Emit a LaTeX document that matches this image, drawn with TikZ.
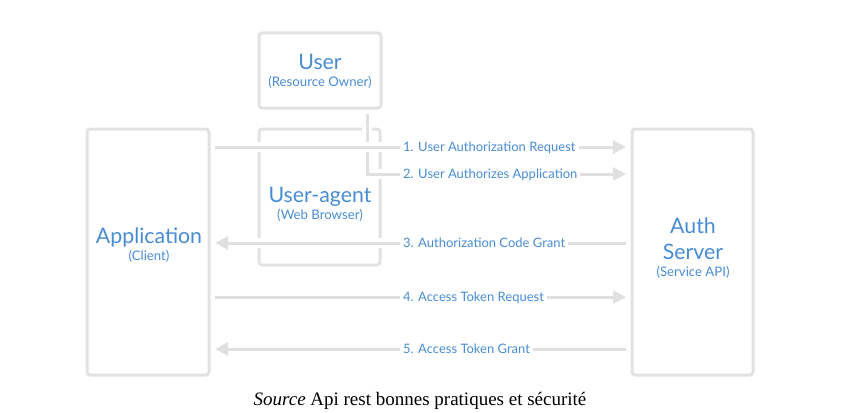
\documentclass[tikz,border=0pt]{standalone}
\usepackage{fontspec}
\setmainfont{Lato}
\newfontfamily\capfont{Liberation Serif}
\usetikzlibrary{arrows.meta,positioning}
\definecolor{boxgray}{RGB}{226,226,226}
\definecolor{linkgray}{RGB}{224,224,224}
\definecolor{oblue}{RGB}{72,141,212}

\begin{document}
\begin{tikzpicture}[x=1pt,y=-1pt,
    party/.style={draw=boxgray,line width=3pt,rounded corners=3pt,fill=white,outer sep=6pt},
    actor/.style={anchor=base,text=oblue,inner sep=0pt,font=\fontsize{21.3}{23}\selectfont},
    actorsub/.style={anchor=base,text=oblue,inner sep=0pt,font=\fontsize{13.2}{15}\selectfont},
    flow/.style={draw=linkgray,line width=3pt,-{Triangle[length=13pt,width=13pt]},
      preaction={draw=white,line width=10pt,-}},
    msg/.style={anchor=west,fill=white,text=oblue,inner sep=3pt,text height=9pt,text depth=0pt,
      font=\fontsize{13}{15}\selectfont},
    caption/.style={anchor=base,inner sep=0pt,font=\capfont\fontsize{19}{21}\selectfont}]
          \useasboundingbox (0,0) rectangle (850,412);

          \node[party,minimum width=122pt,minimum height=75pt] (user) at (320,70.5) {};
          \node[party,minimum width=121pt,minimum height=136pt] (agent) at (319.5,197) {};
          \node[party,minimum width=122pt,minimum height=246pt] (app) at (148,252) {};
          \node[party,minimum width=121pt,minimum height=246pt] (auth) at (692.5,252) {};

          \node[actor] (usertxt) at (320,70) {User};
          \node[actorsub] (usersub) at (320,86) {(Resource Owner)};
          \node[actor] (agenttxt) at (320,202) {User-agent};
          \node[actorsub] (agentsub) at (320,219) {(Web Browser)};
          \node[actor] (apptxt) at (149,243) {Application};
          \node[actorsub] (appsub) at (149,260) {(Client)};
          \node[actor] (authtxt) at (693,233) {Auth};
          \node[actor] (authtxt2) at (693,259) {Server};
          \node[actorsub] (authsub) at (693,276) {(Service API)};

          \coordinate (row1) at (0,147);
          \coordinate (knee) at (367,174);
          \coordinate (row3) at (0,243);
          \coordinate (row4) at (0,297);
          \coordinate (row5) at (0,349);

          \draw[flow] (user.south -| knee) -- (knee) -- (auth.west |- knee);
          \draw[flow] (app.east |- row1) -- (auth.west |- row1);
          \draw[flow] (auth.west |- row3) -- (app.east |- row3);
          \draw[flow] (app.east |- row4) -- (auth.west |- row4);
          \draw[flow] (auth.west |- row5) -- (app.east |- row5);

          \node[msg] (m1) at (400,147) {1. User Authorization Request};
          \node[msg] (m2) at (400,174) {2. User Authorizes Application};
          \node[msg] (m3) at (400,243) {3. Authorization Code Grant};
          \node[msg] (m4) at (400,297) {4. Access Token Request};
          \node[msg] (m5) at (400,349) {5. Access Token Grant};

          \node[caption] (src) at (420,405) {\textit{Source} Api rest bonnes pratiques et sécurité};
        \end{tikzpicture}
\end{document}
